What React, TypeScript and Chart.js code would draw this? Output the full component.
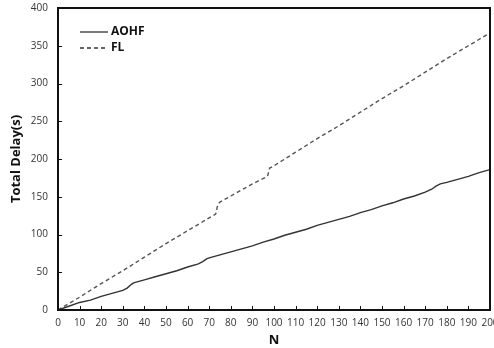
import React, { useEffect, useRef } from "react";
import { Chart, registerables } from "chart.js";

Chart.register(...registerables);

const aohfN = [0, 5, 10, 15, 20, 25, 30, 32, 34, 35, 40, 45, 50, 55, 60, 65, 67, 69, 70, 75, 80, 85, 90, 95, 100, 105, 110, 115, 120, 125, 130, 135, 140, 145, 150, 155, 160, 165, 170, 173, 175, 177, 180, 185, 190, 195, 200];
const aohfDelay = [0, 5, 10, 13, 18, 22, 26, 29, 34, 36, 40, 44, 48, 52, 57, 61, 64, 68, 69, 73, 77, 81, 85, 90, 94, 99, 103, 107, 112, 116, 120, 124, 129, 133, 138, 142, 147, 151, 156, 160, 164, 167, 169, 173, 177, 182, 186];

const flN = [0, 10, 20, 30, 40, 50, 60, 70, 73, 74, 75, 80, 90, 97, 98, 100, 110, 120, 130, 140, 150, 160, 170, 180, 190, 200];
const flDelay = [0, 17, 35, 52, 70, 88, 105, 122, 127, 140, 143, 151, 167, 177, 188, 191, 209, 227, 244, 262, 280, 297, 315, 333, 350, 367];

const seriesNames = ["AOHF", "FL"];
const xTitle = "N";
const yTitle = "Total Delay(s)";
const FONT = "'Open Sans', 'Noto Sans', sans-serif";

const framePlugin = {
  id: "frame",
  afterDraw(chart: any) {
    const { ctx, chartArea, scales } = chart;
    const { left, right, top, bottom } = chartArea;
    ctx.save();
    ctx.strokeStyle = "#111";
    ctx.lineWidth = 1;
    scales.x.ticks.forEach((t: any) => {
      const px = Math.round(scales.x.getPixelForValue(t.value)) + 0.5;
      ctx.beginPath();
      ctx.moveTo(px, bottom);
      ctx.lineTo(px, bottom - 4);
      ctx.stroke();
    });
    scales.y.ticks.forEach((t: any) => {
      const py = Math.round(scales.y.getPixelForValue(t.value)) + 0.5;
      ctx.beginPath();
      ctx.moveTo(left, py);
      ctx.lineTo(left + 4, py);
      ctx.stroke();
    });
    ctx.lineWidth = 2;
    ctx.strokeStyle = "#111";
    ctx.strokeRect(left, top, right - left, bottom - top);
    const lx = left + 22;
    const items = [
      { name: seriesNames[0], dash: [] as number[], color: "#333" },
      { name: seriesNames[1], dash: [4, 3], color: "#333" },
    ];
    ctx.font = `bold 12px ${FONT}`;
    ctx.textBaseline = "middle";
    ctx.fillStyle = "#111";
    items.forEach((it, i) => {
      const y = top + 24 + i * 16;
      ctx.beginPath();
      ctx.lineWidth = 1.3;
      ctx.strokeStyle = it.color;
      ctx.setLineDash(it.dash);
      ctx.moveTo(lx, y);
      ctx.lineTo(lx + 28, y);
      ctx.stroke();
      ctx.setLineDash([]);
      ctx.fillText(it.name, lx + 31, y);
    });
    ctx.restore();
  },
};

export default function App() {
  const ref = useRef<HTMLCanvasElement | null>(null);
  useEffect(() => {
    if (!ref.current) return;
    const chart = new Chart(ref.current, {
      type: "line",
      data: {
        datasets: [
          {
            label: seriesNames[0],
            data: aohfN.map((n, i) => ({ x: n, y: aohfDelay[i] })),
            borderColor: "#333",
            borderWidth: 1.4,
            pointRadius: 0,
            tension: 0,
            fill: false,
          },
          {
            label: seriesNames[1],
            data: flN.map((n, i) => ({ x: n, y: flDelay[i] })),
            borderColor: "#555",
            borderWidth: 1.4,
            borderDash: [4, 3],
            pointRadius: 0,
            tension: 0,
            fill: false,
          },
        ],
      },
      plugins: [framePlugin],
      options: {
        animation: false,
        responsive: false,
        maintainAspectRatio: false,
        layout: { padding: { top: 8, right: 4, left: 0, bottom: 0 } },
        plugins: { legend: { display: false }, tooltip: { enabled: false } },
        scales: {
          x: {
            type: "linear",
            min: 0,
            max: 200,
            grid: { display: false, drawTicks: false },
            border: { display: false },
            ticks: { stepSize: 10, padding: 7, color: "#333", font: { family: FONT, size: 10 }, maxRotation: 0, autoSkip: false },
            title: { display: true, text: xTitle, color: "#111", font: { family: FONT, size: 13, weight: "bold" }, padding: { top: 2, bottom: 0 } },
            afterFit: (s: any) => { s.height = 38; s.paddingLeft = 0; s.paddingRight = 0; },
          },
          y: {
            min: 0,
            max: 400,
            grid: { display: false, drawTicks: false },
            border: { display: false },
            ticks: { stepSize: 50, padding: 10, color: "#333", font: { family: FONT, size: 10 } },
            title: { display: true, text: yTitle, color: "#111", font: { family: FONT, size: 13, weight: "bold" }, padding: { top: 8, bottom: 0 } },
            afterFit: (s: any) => { s.width = 58; s.paddingTop = 0; s.paddingBottom = 0; },
          },
        },
      },
    });
    return () => chart.destroy();
  }, []);
  return (
    <div style={{ position: "fixed", left: 0, top: 0, width: 494, height: 348, background: "#fff" }}>
      <canvas ref={ref} width={494} height={348} style={{ width: 494, height: 348 }} />
    </div>
  );
}
